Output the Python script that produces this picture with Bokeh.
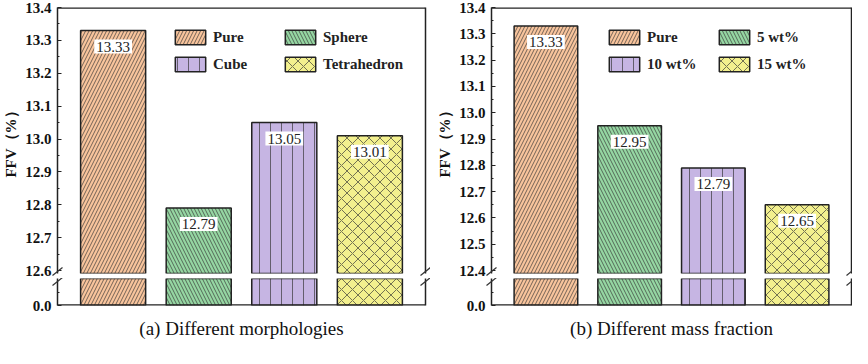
from bokeh.plotting import figure
from bokeh.models import (ColumnDataSource, FactorRange, Range1d, FixedTicker,
                          PrintfTickFormatter, Label, Legend, LegendItem,
                          LinearAxis, Title, Span)
from bokeh.layouts import row, column
from bokeh.embed import file_html
from bokeh.resources import INLINE

# ---------------- data ----------------
cats_a = ["Pure", "Sphere", "Cube", "Tetrahedron"]
vals_a = [13.33, 12.79, 13.05, 13.01]
ticks_a = [12.6, 12.7, 12.8, 12.9, 13.0, 13.1, 13.2, 13.3, 13.4]
caption_a = "(a) Different morphologies"

cats_b = ["Pure", "5 wt%", "10 wt%", "15 wt%"]
vals_b = [13.33, 12.95, 12.79, 12.65]
ticks_b = [12.4, 12.5, 12.6, 12.7, 12.8, 12.9, 13.0, 13.1, 13.2, 13.3, 13.4]
caption_b = "(b) Different mass fraction"

low_ticks = [0.0]          # tick of the lower (broken-off) segment
low_range = (0.0, 1.0)     # data span shown by the lower segment
ylabel = "FFV（%）"

# ---------------- style ----------------
fills = ["#F8C49C", "#95D6A2", "#C6B5E3", "#F3F08E"]
hatches = ["/", "\\", "|", "x"]
hatch_scales = [7, 7, 11, 11]
SERIF = "Liberation Serif"
INK = "#222222"
TOP_B = 7
UP_H = 266        # upper frame height
LO_TICK_PX = 3    # lowest upper tick sits this far above the upper frame bottom
GAP = 5           # white gap of the axis break
LOW_H = 27        # lower frame height
BOT_B = 43


def plain_axis():
    ax = LinearAxis(ticker=FixedTicker(ticks=[]))
    ax.major_label_standoff = 0
    ax.major_tick_in = 0
    ax.major_tick_out = 0
    ax.minor_tick_in = 0
    ax.minor_tick_out = 0
    ax.major_tick_line_color = None
    ax.minor_tick_line_color = None
    ax.axis_line_color = INK
    ax.axis_line_width = 1.5
    return ax


def style_yaxis(ax):
    ax.major_label_text_font = SERIF
    ax.major_label_text_font_style = "bold"
    ax.major_label_text_font_size = "15px"
    ax.major_label_text_color = "#111111"
    ax.major_label_standoff = 6
    ax.major_tick_in = 4
    ax.major_tick_out = 0
    ax.minor_tick_in = 2
    ax.minor_tick_out = 0
    ax.axis_line_color = INK
    ax.axis_line_width = 1.5
    ax.major_tick_line_color = INK
    ax.minor_tick_line_color = INK
    ax.formatter = PrintfTickFormatter(format="%.1f")


def base_fig(cats, pad, width, height, bl, br, bt, bb, yr):
    p = figure(x_range=FactorRange(*cats, range_padding=pad, range_padding_units="absolute"),
               y_range=yr, width=width, height=height,
               min_border_left=bl, min_border_right=br,
               min_border_top=bt, min_border_bottom=bb,
               output_backend="svg", toolbar_location=None)
    p.background_fill_color = "white"
    p.border_fill_color = "white"
    p.outline_line_color = None
    p.xgrid.visible = False
    p.ygrid.visible = False
    p.xaxis.visible = False
    return p


def make_panel(cats, vals, ticks, caption, frame_w, bl, br, pad, cap_off, leg_x):
    lo, hi = ticks[0], ticks[-1]
    n = len(cats)
    ppu = (UP_H - LO_TICK_PX) / (hi - lo)
    ppx = frame_w / (n + 2 * pad)
    xs, xe = -pad, n + pad
    width = bl + frame_w + br
    y_start = lo - LO_TICK_PX / ppu

    # ---------- upper segment ----------
    up = base_fig(cats, pad, width, TOP_B + UP_H + GAP, bl, br, TOP_B, GAP,
                  Range1d(y_start, hi))
    ax = up.yaxis[0]
    style_yaxis(ax)
    ax.ticker = FixedTicker(ticks=ticks,
                            minor_ticks=[(a + b) / 2 for a, b in zip(ticks[:-1], ticks[1:])])
    ax.axis_label = ylabel
    ax.axis_label_text_font = SERIF
    ax.axis_label_text_font_style = "bold"
    ax.axis_label_text_font_size = "15px"
    ax.axis_label_text_color = "#111111"
    ax.axis_label_standoff = 3
    up.add_layout(plain_axis(), "right")
    up.add_layout(Span(location=hi, dimension="width", line_color=INK, line_width=2.5))

    # ---------- lower segment ----------
    low = base_fig(cats, pad, width, LOW_H + BOT_B, bl, br, 0, BOT_B,
                   Range1d(*low_range))
    lax = low.yaxis[0]
    style_yaxis(lax)
    lax.ticker = FixedTicker(ticks=low_ticks,
                             minor_ticks=[(low_range[0] + low_range[1]) / 2])
    low.add_layout(plain_axis(), "right")
    low.add_layout(Span(location=low_range[0], dimension="width", line_color=INK,
                        line_width=2.5))
    low.add_layout(Title(text=caption, align="center", offset=cap_off,
                         text_font=SERIF, text_font_size="19px", text_font_style="normal",
                         text_color="#111111", standoff=20), "below")

    rs = []
    for i, (c, v) in enumerate(zip(cats, vals)):
        src = ColumnDataSource(dict(x=[c], top=[v]))
        kw = dict(x="x", top="top", width=0.76, source=src,
                  fill_color=fills[i], line_color=INK, line_width=1.5,
                  hatch_pattern=hatches[i], hatch_color="#333333", hatch_alpha=0.75,
                  hatch_scale=hatch_scales[i], hatch_weight=0.9)
        rs.append(up.vbar(bottom=y_start, **kw))
        low.vbar(bottom=low_range[0], **kw)
        # synthetic categorical coordinate of factor i is i + 0.5
        up.add_layout(Label(x=i + 0.5, y=v, y_offset=-16, text="%.2f" % v,
                            text_align="center", text_baseline="middle",
                            text_font=SERIF, text_font_size="15px",
                            text_color=INK, background_fill_color="white",
                            background_fill_alpha=1, padding=2))

    for cols, xloc in (((0, 2), leg_x), ((1, 3), leg_x + 110)):
        leg = Legend(items=[LegendItem(label=cats[k], renderers=[rs[k]]) for k in cols],
                     location=(xloc, UP_H - 66), orientation="vertical",
                     glyph_width=38, glyph_height=18, label_height=18, spacing=9,
                     padding=0, margin=0, border_line_color=None,
                     background_fill_alpha=0, label_standoff=4,
                     label_text_font=SERIF, label_text_font_style="bold",
                     label_text_font_size="15px", label_text_color=INK)
        up.add_layout(leg, "center")

    # break slashes across both edges
    lpu = LOW_H / (low_range[1] - low_range[0])
    for fig, yc, unit in ((up, y_start + 2 / ppu, ppu), (low, low_range[1] - 3 / lpu, lpu)):
        sx0, sy0, sx1, sy1 = [], [], [], []
        for e in (xs, xe):
            sx0.append(e - 5 / ppx); sy0.append(yc - 4 / unit)
            sx1.append(e + 5 / ppx); sy1.append(yc + 4 / unit)
        fig.segment(x0=sx0, y0=sy0, x1=sx1, y1=sy1, line_color="#333333",
                    line_width=1.2, level="overlay")

    return column(up, low)


p1 = make_panel(cats_a, vals_a, ticks_a, caption_a, 370, 55, 5, 0.15, -21, 114)
p2 = make_panel(cats_b, vals_b, ticks_b, caption_b, 360, 61, 1, 0.15, -37, 114)
layout = row(p1, p2)

open("out.html", "w").write(file_html(layout, INLINE))
